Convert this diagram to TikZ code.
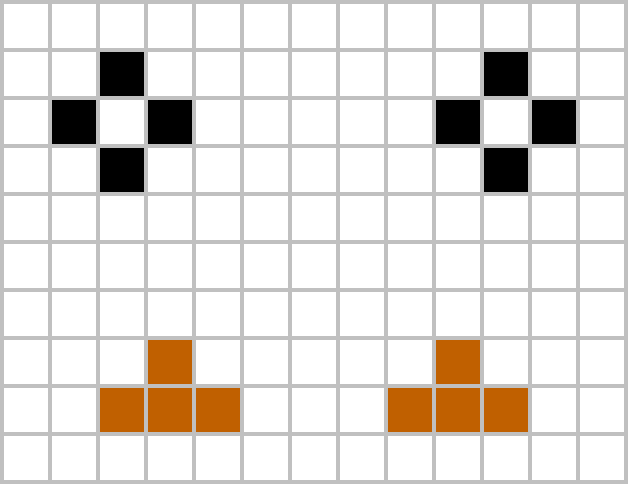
\documentclass[tikz,border=0pt]{standalone}
\definecolor{gridgray}{RGB}{192,192,192}
\definecolor{cellorange}{RGB}{192,96,0}
\begin{document}
\begin{tikzpicture}[x=1pt,y=-1pt,
  blackcell/.style={fill=black},
  orangecell/.style={fill=cellorange},
  gridline/.style={draw=gridgray,line width=4pt,line cap=rect}]
\useasboundingbox (0,0) rectangle (628,484);
\fill[white] (0,0) rectangle (628,484);
% black diamonds
\foreach \c/\r in {2/1,1/2,3/2,2/3,10/1,9/2,11/2,10/3}
  \path[blackcell] ({2+48*\c},{2+48*\r}) rectangle ++(48,48);
% orange T shapes
\foreach \c/\r in {3/7,2/8,3/8,4/8,9/7,8/8,9/8,10/8}
  \path[orangecell] ({2+48*\c},{2+48*\r}) rectangle ++(48,48);
% grid
\foreach \i in {0,...,13}
  \draw[gridline] ({2+48*\i},2) -- ({2+48*\i},482);
\foreach \j in {0,...,10}
  \draw[gridline] (2,{2+48*\j}) -- (626,{2+48*\j});
\end{tikzpicture}
\end{document}
